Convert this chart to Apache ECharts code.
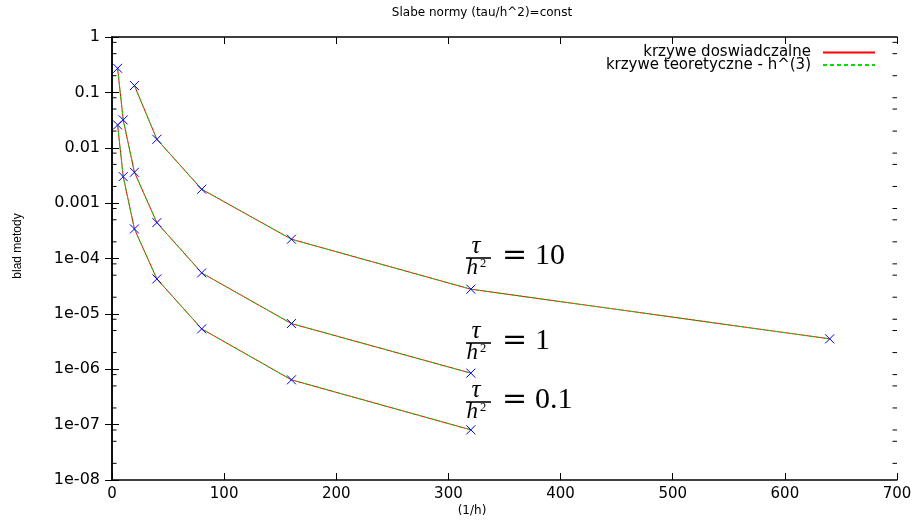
<!DOCTYPE html>
<html><head><meta charset="utf-8">
<script src="https://cdn.jsdelivr.net/npm/echarts@6/dist/echarts.min.js"></script>
<style>html,body{margin:0;padding:0;background:#fff}#c{width:915px;height:529px}</style>
</head><body><div id="c"></div>
<script>
// ---- data ----
const xRatio10 = [20, 40, 80, 160, 320, 640];
const expRatio10 = [0.133, 0.0142, 0.00178, 2.23e-4, 2.79e-5, 3.54e-6];
const theoRatio10 = [0.133, 0.0142, 0.00178, 2.23e-4, 2.79e-5, 3.54e-6];

const xRatio1 = [5, 10, 20, 40, 80, 160, 320];
const expRatio1 = [0.272, 0.0318, 0.00361, 4.45e-4, 5.50e-5, 6.68e-6, 8.51e-7];
const theoRatio1 = [0.272, 0.0318, 0.00361, 4.45e-4, 5.50e-5, 6.68e-6, 8.51e-7];

const xRatio01 = [5, 10, 20, 40, 80, 160, 320];
const expRatio01 = [0.0258, 0.00301, 3.42e-4, 4.28e-5, 5.36e-6, 6.44e-7, 8.05e-8];
const theoRatio01 = [0.0258, 0.00301, 3.42e-4, 4.28e-5, 5.36e-6, 6.44e-7, 8.05e-8];

const yTickLabels = ['1e-08', '1e-07', '1e-06', '1e-05', '1e-04', '0.001', '0.01', '0.1', '1'];
const minorMantissas = [2, 5, 8];
const ratioLabels = ['10', '1', '0.1'];

const nameExp = 'krzywe doswiadczalne';
const nameTheo = 'krzywe teoretyczne - h^(3)';
const titleText = 'Slabe normy (tau/h^2)=const';
const xName = '(1/h)';
const yName = 'blad metody';

// ---- build ----
const zip = (xs, ys) => xs.map((x, i) => [x, ys[i]]);
const groups = [[xRatio10, expRatio10, theoRatio10], [xRatio1, expRatio1, theoRatio1], [xRatio01, expRatio01, theoRatio01]];
const RED = '#ff0000', GREEN = '#00e000', BLUE = '#0000ff';

const series = [];
groups.forEach(g => {
  series.push({
    name: nameExp, type: 'line', data: zip(g[0], g[1]), symbol: 'none',
    color: RED, lineStyle: { color: RED, width: 1 }, z: 2, silent: true
  });
});
groups.forEach(g => {
  series.push({
    name: nameTheo, type: 'line', data: zip(g[0], g[2]), symbol: 'none',
    color: GREEN, lineStyle: { color: GREEN, width: 1, type: [4, 3] }, z: 3, silent: true
  });
});
const markerData = [];
groups.forEach(g => g[0].forEach((x, i) => markerData.push([x, g[1][i]])));
series.push({
  type: 'custom', data: markerData, z: 4, clip: false, silent: true,
  renderItem: (params, api) => {
    const p = api.coord([api.value(0), api.value(1)]);
    const s = 4.5;
    return { type: 'group', children: [
      { type: 'line', shape: { x1: p[0]-s, y1: p[1]-s, x2: p[0]+s, y2: p[1]+s }, style: { stroke: BLUE, lineWidth: 1 } },
      { type: 'line', shape: { x1: p[0]-s, y1: p[1]+s, x2: p[0]+s, y2: p[1]-s }, style: { stroke: BLUE, lineWidth: 1 } }
    ] };
  }
});
const minorData = [];
for (let e = -8; e < 0; e++) minorMantissas.forEach(m => minorData.push([0, m * Math.pow(10, e)]));
series.push({
  type: 'custom', data: minorData, z: 1, clip: false, silent: true,
  renderItem: (params, api) => {
    const l = api.coord([0, api.value(1)]);
    const r = api.coord([700, api.value(1)]);
    return { type: 'group', children: [
      { type: 'line', shape: { x1: l[0], y1: l[1], x2: l[0]+4.5, y2: l[1] }, style: { stroke: '#000', lineWidth: 1 } },
      { type: 'line', shape: { x1: r[0]-4.5, y1: r[1], x2: r[0], y2: r[1] }, style: { stroke: '#000', lineWidth: 1 } }
    ] };
  }
});

const chart = echarts.init(document.getElementById('c'), null, { renderer: 'canvas' });

function fracLabel(px, py, rhs) {
  // px: left of fraction bar, py: y of fraction bar
  return { type: 'group', x: px, y: py, silent: true, children: [
    { type: 'rect', shape: { x: 0, y: -0.8, width: 25, height: 1.6 }, style: { fill: '#000' } },
    { type: 'text', x: 10, y: -11.5, style: { text: 'τ', font: 'italic 25px "Liberation Serif"', fill: '#000', align: 'center', verticalAlign: 'middle' } },
    { type: 'text', x: 0.5, y: 9.5, style: { text: 'h', font: 'italic 23px "Liberation Serif"', fill: '#000', align: 'left', verticalAlign: 'middle' } },
    { type: 'text', x: 14, y: 5.6, style: { text: '2', font: '12.5px "Liberation Serif"', fill: '#000', align: 'left', verticalAlign: 'middle' } },
    { type: 'text', x: 48.5, y: -1.4, style: { text: '=', font: '30px "DejaVu Serif"', fill: '#000', align: 'center', verticalAlign: 'middle' } },
    { type: 'text', x: 69, y: -1.4, style: { text: rhs, font: '30px "Liberation Serif"', fill: '#000', align: 'left', verticalAlign: 'middle' } }
  ] };
}

const axisLineStyle = { show: true, lineStyle: { color: '#000', width: 1.5 } };
chart.setOption({
  animation: false,
  backgroundColor: '#fff',
  grid: { left: 112, right: 18, top: 37, bottom: 49 },
  legend: {
    data: [nameExp, nameTheo], orient: 'vertical', right: 39, top: 45, padding: 0, align: 'right',
    itemWidth: 52, itemHeight: 10, itemGap: -2.4, selectedMode: false,
    itemStyle: { opacity: 0 },
    textStyle: { fontFamily: 'DejaVu Sans', fontSize: 15, color: '#000', padding: [0, 7, 0, 0] }
  },
  xAxis: [
    { type: 'value', min: 0, max: 700, interval: 100, position: 'bottom',
      axisLine: axisLineStyle, axisTick: { inside: true, length: 7, lineStyle: { color: '#000' } },
      axisLabel: { color: '#000', fontFamily: 'DejaVu Sans', fontSize: 15, margin: 7 }, splitLine: { show: false } },
    { type: 'value', min: 0, max: 700, interval: 100, position: 'top',
      axisLine: axisLineStyle, axisTick: { inside: true, length: 7, lineStyle: { color: '#000' } },
      axisLabel: { show: false }, splitLine: { show: false } }
  ],
  yAxis: [
    { type: 'log', logBase: 10, min: 1e-8, max: 1, splitNumber: 8, position: 'left',
      axisLine: axisLineStyle, axisTick: { inside: true, length: 7, lineStyle: { color: '#000' } },
      axisLabel: { color: '#000', fontFamily: 'DejaVu Sans', fontSize: 16, margin: 12,
        formatter: v => yTickLabels[Math.round(Math.log10(v)) + 8] },
      splitLine: { show: false } },
    { type: 'log', logBase: 10, min: 1e-8, max: 1, splitNumber: 8, position: 'right',
      axisLine: axisLineStyle, axisTick: { inside: true, length: 7, lineStyle: { color: '#000' } },
      axisLabel: { show: false }, splitLine: { show: false } }
  ],
  series: series,
  graphic: [
    { type: 'text', x: 482, y: 13, silent: true, style: { text: titleText, font: '12px "DejaVu Sans"', fill: '#000', align: 'center', verticalAlign: 'middle' } },
    { type: 'text', x: 472, y: 511, silent: true, style: { text: xName, font: '12px "DejaVu Sans"', fill: '#000', align: 'center', verticalAlign: 'middle' } },
    { type: 'text', x: 18, y: 246, rotation: Math.PI / 2, silent: true, style: { text: yName, font: '12px "Liberation Sans"', fill: '#000', align: 'center', verticalAlign: 'middle' } },
    fracLabel(466, 258, ratioLabels[0]),
    fracLabel(466, 343, ratioLabels[1]),
    fracLabel(466, 402, ratioLabels[2])
  ]
});
</script></body></html>
